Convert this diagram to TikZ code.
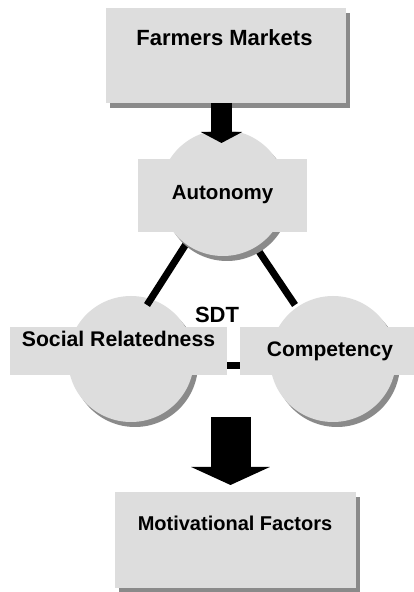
\documentclass[tikz,border=0pt]{standalone}
\usepackage{fontspec}
\setmainfont{Liberation Sans}
\usetikzlibrary{arrows.meta,shadows}
\definecolor{boxgray}{HTML}{DDDDDD}
\definecolor{shadegray}{HTML}{8A8A8A}

\begin{document}
\begin{tikzpicture}
[
    x=1pt, y=1pt,
    panel/.style={rectangle, fill=boxgray, inner sep=0pt, outer sep=0pt},
    shaded/.style={drop shadow={shadow xshift=4pt, shadow yshift=-5pt, fill=shadegray, opacity=1}},
    ball/.style={panel, circle, minimum size=126pt, shaded},
    word/.style={font=\bfseries\fontsize{#1}{#1}\selectfont, anchor=base, inner sep=0pt},
    link/.style={line width=7pt},
    blockarrow/.style={line width=#1},
]
\useasboundingbox (0,0) rectangle (414,592);

\node [panel, shaded, minimum width=240pt, minimum height=95pt] (fm) at (226,536.5) {};
\node [word=22] (fmtext) at (224.5,546) {Farmers Markets};

\node [ball] (soc) at (131,233) {};
\node [ball] (comp) at (333,233) {};

\coordinate (autl) at (186,348);
\coordinate (autr) at (254,348);
\coordinate (socl) at (147,287);
\coordinate (compl) at (295,287);
\draw [link] (autl) -- (socl);
\draw [link] (autr) -- (compl);

\node [ball] (aut) at (223,399) {};

\draw [link] ([yshift=-6.5pt]soc.east) -- ([yshift=-6.5pt]comp.west);

\node [panel, minimum width=169pt, minimum height=73pt] (autbox) at (222.5,396.5) {};
\node [panel, minimum width=217pt, minimum height=48pt] (socbox) at (118.5,241) {};
\node [panel, minimum width=176pt, minimum height=48pt] (compbox) at (328,241) {};

\node [word=20.5] (auttext) at (222.5,392) {Autonomy};
\node [word=21.2] (soctext) at (118.5,245) {Social Relatedness};
\node [word=21] (comptext) at (330,235) {Competency};
\node [word=22] (sdt) at (217,269) {SDT};

\node [panel, shaded, minimum width=241pt, minimum height=96pt] (mf) at (235.5,52) {};
\node [word=20] (mftext) at (235,61) {Motivational Factors};

\coordinate (tip1) at (221.5,449);
\draw [blockarrow=21pt, -{Triangle[width=41pt,length=11pt]}] ([xshift=-4.5pt]fm.south) -- (tip1);

\coordinate (tail2) at (230.5,175);
\draw [blockarrow=40pt, -{Triangle[width=78pt,length=18pt]}, shorten >=7pt] (tail2) -- (tail2 |- mf.north);
\end{tikzpicture}
\end{document}
